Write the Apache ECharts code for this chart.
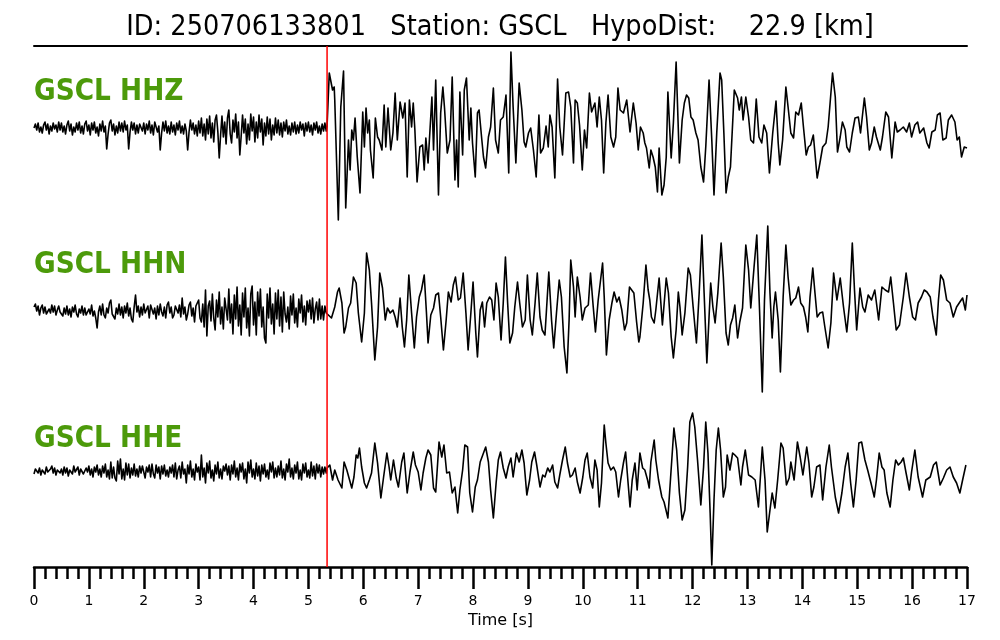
<!DOCTYPE html>
<html><head><meta charset="utf-8">
<script src="https://cdn.jsdelivr.net/npm/echarts@6/dist/echarts.min.js"></script>
<style>html,body{margin:0;padding:0;background:#fff}#c{width:1000px;height:640px}</style>
</head><body><div id="c"></div>
<script>
const titleText = 'ID: 250706133801   Station: GSCL   HypoDist:    22.9 [km]';
const channels = ['GSCL HHZ', 'GSCL HHN', 'GSCL HHE'];
const pArrival = 5.34;
const xMin = 0, xMax = 17;
const noiseStep = 0.025;

const hhzNoise = [
 0,4,-2,5,-4,1,-5,3,6,-2,4,-6,2,-3,5,-1,3,-4,6,-2,
 5,-4,2,-6,3,7,-3,4,-7,1,-4,5,-2,6,-5,2,-6,4,7,-3,
 3,-7,5,-2,6,-5,1,-8,4,-3,7,-4,2,-21,-6,5,8,-3,4,-7,
 2,-5,6,-3,5,-4,7,-2,3,-21,-4,6,-2,5,-6,3,-5,4,6,-3,
 5,-6,4,-2,7,-5,3,-7,6,8,-4,2,-22,-5,6,-3,7,-5,2,-6,
 6,-4,3,-7,5,-2,7,-5,2,-6,4,-3,-22,-4,8,-2,5,-6,3,-8,
 7,-5,10,-8,4,-12,9,-6,12,-10,5,-14,8,13,-4,-30,-7,12,-9,6,
 -16,10,18,-6,-15,8,-4,14,-10,6,-27,-8,13,-5,9,-16,4,-12,14,-3,
 11,-14,6,-10,13,-4,9,-17,5,-8,11,-6,9,-12,3,-7,10,-5,8,-7,
 5,-9,6,-3,8,-6,2,-7,5,-4,6,-6,3,-5,6,-2,4,-8,5,-3,
 6,-4,3,-7,5,-2,6,-5,2,-6,4,-3,5,-3];
const hhzPost = [[5.34,2],[5.38,55],[5.44,38],[5.47,41],[5.48,28],[5.545,-92],[5.59,21],[5.64,57],[5.68,-80],[5.73,-12],[5.76,-42],[5.79,-2],[5.82,-12],[5.85,10],[5.89,-29],[5.94,-65],[5.99,16],[6.02,-19],[6.05,20],[6.08,-5],[6.11,8],[6.13,-22],[6.18,-50],[6.22,10],[6.26,-9],[6.29,-12],[6.34,-22],[6.38,23],[6.41,-19],[6.45,20],[6.50,-22],[6.54,-5],[6.58,35],[6.62,-12],[6.67,26],[6.72,10],[6.76,25],[6.80,-49],[6.84,28],[6.88,1],[6.91,25],[6.94,-2],[6.98,-54],[7.03,-19],[7.08,-17],[7.11,-42],[7.14,-10],[7.18,-35],[7.25,31],[7.28,-22],[7.32,48],[7.37,-67],[7.41,15],[7.45,41],[7.48,20],[7.53,-25],[7.58,-12],[7.62,51],[7.67,-52],[7.70,-12],[7.73,-59],[7.76,36],[7.81,-27],[7.84,38],[7.88,50],[7.93,-12],[7.96,20],[7.99,-15],[8.04,-49],[8.08,15],[8.11,18],[8.16,-12],[8.19,-29],[8.23,-40],[8.28,-9],[8.32,1],[8.37,40],[8.41,-12],[8.46,-25],[8.50,8],[8.55,11],[8.60,33],[8.65,-45],[8.69,76],[8.73,21],[8.78,-35],[8.84,45],[8.89,18],[8.93,-14],[8.96,-19],[9.01,-5],[9.05,0],[9.10,-22],[9.15,-49],[9.20,13],[9.23,-25],[9.28,-20],[9.33,2],[9.37,-19],[9.40,13],[9.44,1],[9.49,-50],[9.54,49],[9.58,1],[9.63,-27],[9.69,35],[9.74,36],[9.78,21],[9.83,-35],[9.86,28],[9.90,25],[9.94,3],[9.99,-42],[10.03,-2],[10.07,-20],[10.12,35],[10.16,16],[10.22,25],[10.26,1],[10.30,31],[10.34,8],[10.38,-45],[10.42,5],[10.46,33],[10.51,-9],[10.56,-19],[10.60,-9],[10.64,40],[10.68,18],[10.74,15],[10.80,28],[10.86,-4],[10.92,25],[10.97,5],[11.01,-22],[11.05,1],[11.10,-5],[11.13,-15],[11.16,-20],[11.21,-40],[11.24,-22],[11.28,-29],[11.32,-39],[11.36,-64],[11.39,-20],[11.44,-67],[11.48,-57],[11.52,-29],[11.55,36],[11.61,-30],[11.65,5],[11.70,66],[11.76,-35],[11.81,8],[11.85,25],[11.89,33],[11.93,30],[11.97,11],[12.01,8],[12.06,-5],[12.10,-12],[12.15,-39],[12.20,-54],[12.24,-19],[12.30,48],[12.35,-12],[12.39,-67],[12.44,-5],[12.50,55],[12.53,48],[12.57,-5],[12.61,-65],[12.65,-49],[12.69,-39],[12.76,38],[12.82,30],[12.85,18],[12.89,31],[12.92,8],[12.97,31],[13.02,11],[13.06,-12],[13.11,-15],[13.16,29],[13.21,-9],[13.26,-15],[13.30,3],[13.35,-5],[13.40,-45],[13.46,-5],[13.52,27],[13.56,-15],[13.59,-37],[13.64,-12],[13.70,41],[13.74,21],[13.79,-5],[13.84,-10],[13.88,16],[13.93,13],[13.98,25],[14.02,1],[14.07,-27],[14.11,-19],[14.15,-17],[14.20,-7],[14.27,-50],[14.32,-35],[14.37,-19],[14.43,-15],[14.47,1],[14.55,55],[14.60,31],[14.64,-24],[14.69,-9],[14.73,6],[14.78,-2],[14.81,-19],[14.86,-24],[14.91,-5],[14.96,10],[15.02,11],[15.06,-5],[15.13,30],[15.17,11],[15.22,-22],[15.26,-15],[15.31,1],[15.35,-9],[15.42,-22],[15.46,-9],[15.52,16],[15.57,11],[15.63,-30],[15.69,6],[15.73,-4],[15.78,-2],[15.84,1],[15.90,-4],[15.95,5],[15.99,-9],[16.05,3],[16.10,6],[16.14,-5],[16.21,0],[16.27,-15],[16.31,-20],[16.36,-4],[16.42,-2],[16.46,13],[16.51,15],[16.56,-12],[16.62,-10],[16.66,8],[16.72,13],[16.78,6],[16.82,-12],[16.86,-9],[16.90,-29],[16.95,-19],[17.0,-20]];

const hhnNoise = [
 3,6,-1,4,-5,2,5,-3,3,-4,-6,1,-3,5,-2,4,-5,0,4,-2,
 -3,-6,2,-4,4,-5,1,-7,3,-2,5,-4,-7,1,-3,4,-5,2,-5,-6,
 1,-4,5,-6,-1,-8,-18,-2,4,-5,6,-5,-8,2,-3,7,10,-4,-6,-9,
 2,-4,6,-5,3,-8,4,-3,7,-6,2,-9,-12,3,15,-2,4,-7,3,-5,
 6,-3,-5,4,-8,5,7,-4,2,-9,4,-5,6,-2,-6,3,-8,5,8,-3,
 3,-8,-5,4,6,-3,5,-7,12,-4,3,-10,-4,5,8,-6,2,-12,4,6,
 10,-8,-12,6,-17,20,-26,4,9,-11,16,-8,-20,10,-7,18,-14,3,-19,12,
 14,-10,21,-13,6,-24,15,-9,23,-16,5,-25,17,-7,22,-18,2,-26,16,24,
 -15,8,-25,18,-6,21,-17,3,-28,-33,16,-8,22,-14,6,-24,17,-9,20,-16,
 13,-22,18,-4,-12,3,-19,14,-5,16,-13,2,-17,11,-3,15,-12,4,-15,9,
 -2,10,-9,12,-13,1,8,-10,11,-9,4,-10,4,-3];
const hhnPost = [[5.34,-3],[5.36,-5],[5.42,-8],[5.48,3],[5.53,18],[5.56,22],[5.61,7],[5.65,-23],[5.68,-17],[5.73,2],[5.77,7],[5.82,33],[5.87,27],[5.91,-3],[5.97,-32],[6.02,-3],[6.06,57],[6.11,40],[6.15,7],[6.21,-50],[6.26,-17],[6.30,37],[6.35,22],[6.40,-10],[6.44,2],[6.49,-3],[6.54,0],[6.58,-7],[6.62,-17],[6.67,12],[6.71,-17],[6.75,-37],[6.79,-10],[6.83,35],[6.88,-3],[6.93,-38],[6.97,-7],[7.02,13],[7.06,20],[7.11,35],[7.15,-2],[7.18,-33],[7.23,-5],[7.28,2],[7.32,15],[7.37,17],[7.41,-7],[7.46,-40],[7.51,-10],[7.55,18],[7.60,8],[7.64,25],[7.68,33],[7.73,10],[7.77,12],[7.82,37],[7.87,-3],[7.91,-40],[7.96,-3],[8.00,28],[8.05,-23],[8.08,-47],[8.13,0],[8.17,8],[8.21,-17],[8.25,7],[8.30,13],[8.34,10],[8.38,-10],[8.42,27],[8.46,13],[8.51,-30],[8.55,7],[8.59,53],[8.63,7],[8.67,-33],[8.72,-23],[8.76,3],[8.81,28],[8.85,7],[8.90,-17],[8.95,-10],[8.99,35],[9.04,-10],[9.08,-25],[9.13,7],[9.17,37],[9.22,-7],[9.26,-20],[9.31,-25],[9.38,38],[9.43,-10],[9.47,-38],[9.52,-3],[9.57,30],[9.61,13],[9.66,-37],[9.71,-63],[9.75,-10],[9.78,50],[9.83,23],[9.86,-7],[9.90,33],[9.95,13],[9.99,-10],[10.04,2],[10.10,5],[10.14,37],[10.19,3],[10.23,-22],[10.28,10],[10.36,47],[10.39,13],[10.43,-45],[10.48,-10],[10.53,7],[10.57,18],[10.62,8],[10.66,13],[10.71,0],[10.76,-20],[10.80,-13],[10.85,23],[10.89,20],[10.93,17],[10.98,-12],[11.02,-32],[11.04,-27],[11.10,7],[11.15,45],[11.19,20],[11.22,10],[11.25,-7],[11.30,-13],[11.33,0],[11.39,32],[11.45,-15],[11.52,32],[11.56,17],[11.61,-27],[11.65,-48],[11.70,-20],[11.74,18],[11.77,3],[11.81,-25],[11.86,-3],[11.92,42],[11.96,35],[12.01,3],[12.07,-33],[12.12,17],[12.17,75],[12.21,17],[12.26,-53],[12.30,-7],[12.33,27],[12.37,3],[12.41,-13],[12.46,17],[12.52,67],[12.56,33],[12.61,-23],[12.65,-35],[12.69,-15],[12.73,-8],[12.77,5],[12.82,-28],[12.86,-12],[12.91,2],[12.97,65],[13.02,40],[13.06,2],[13.12,43],[13.17,75],[13.22,0],[13.27,-82],[13.31,10],[13.37,84],[13.41,17],[13.45,-28],[13.48,3],[13.51,18],[13.56,-10],[13.60,-62],[13.65,13],[13.70,65],[13.74,33],[13.79,5],[13.84,10],[13.88,12],[13.93,23],[13.97,7],[14.02,3],[14.06,-7],[14.10,-22],[14.14,13],[14.19,42],[14.23,17],[14.27,-7],[14.32,-3],[14.37,-2],[14.41,-17],[14.47,-38],[14.52,-13],[14.57,37],[14.63,10],[14.69,32],[14.75,3],[14.81,-22],[14.86,7],[14.91,67],[14.95,20],[14.99,-20],[15.05,22],[15.10,3],[15.14,-2],[15.20,15],[15.26,10],[15.32,20],[15.39,-10],[15.45,23],[15.51,20],[15.57,18],[15.61,33],[15.66,7],[15.71,-20],[15.77,-15],[15.84,13],[15.89,37],[15.95,13],[16.01,-7],[16.06,-10],[16.11,7],[16.17,13],[16.22,20],[16.27,18],[16.33,13],[16.38,-7],[16.44,-25],[16.48,10],[16.52,35],[16.57,30],[16.63,10],[16.69,7],[16.75,-7],[16.81,3],[16.87,8],[16.92,12],[16.97,0],[17.0,15]];

const hheNoise = [
 -3,2,4,-2,3,-4,1,3,-3,4,-1,-3,2,5,-2,3,-4,1,3,-2,
 2,-4,4,-2,3,-5,1,3,-3,5,-1,-3,4,-4,2,4,-3,-5,3,-1,
 5,-4,2,-6,4,-1,6,-4,2,-6,5,-2,7,-6,1,-8,9,-7,4,-7,
 -10,10,-3,12,-8,2,-9,8,-4,7,-7,3,-4,7,-5,2,-6,5,-2,5,
 3,-7,4,-1,6,-6,7,-3,-7,6,-2,4,-8,5,-3,6,-5,1,-6,4,
 -2,6,-6,8,-8,1,5,-7,9,-3,2,-12,6,-3,10,-6,2,-9,7,-1,
 4,-9,16,-6,3,-12,8,-2,10,-7,1,-10,6,-3,9,-7,2,-8,5,0,
 7,-4,5,-9,6,-3,10,-6,3,-9,7,-1,8,-8,2,-12,9,-2,11,-6,
 2,-8,8,-5,5,-10,6,-3,7,-6,1,-8,8,-1,9,-7,3,-6,5,-4,
 10,-7,2,-9,7,-1,12,-6,3,-8,6,-2,9,-8,1,-9,7,-2,8,-6,
 1,-7,9,-5,5,-8,7,-2,6,-6,4,-3,4,-2];
const hhePost = [[5.34,3],[5.39,6],[5.44,-9],[5.48,1],[5.54,-9],[5.61,-17],[5.65,9],[5.70,1],[5.75,-9],[5.79,-17],[5.83,-6],[5.87,16],[5.90,13],[5.93,23],[5.97,4],[6.02,-12],[6.06,-17],[6.11,-9],[6.15,-2],[6.21,28],[6.26,8],[6.32,-27],[6.37,-6],[6.43,18],[6.47,4],[6.50,-9],[6.55,11],[6.60,-7],[6.64,-16],[6.70,9],[6.74,18],[6.80,-22],[6.85,-1],[6.91,19],[6.95,6],[7.00,-1],[7.05,-19],[7.09,-2],[7.14,13],[7.18,21],[7.23,16],[7.28,-17],[7.32,-21],[7.38,29],[7.43,14],[7.47,26],[7.52,-2],[7.57,-1],[7.62,-22],[7.67,-16],[7.72,-42],[7.76,-19],[7.81,1],[7.85,26],[7.90,24],[7.94,-22],[7.99,-41],[8.04,-16],[8.08,-9],[8.13,9],[8.19,18],[8.23,24],[8.28,9],[8.32,-19],[8.37,-47],[8.42,-12],[8.46,11],[8.50,19],[8.55,3],[8.60,-7],[8.64,4],[8.69,13],[8.73,-6],[8.79,18],[8.84,9],[8.89,21],[8.93,8],[8.98,-24],[9.03,-9],[9.07,9],[9.12,19],[9.16,6],[9.22,-16],[9.27,-4],[9.31,-6],[9.36,3],[9.40,-1],[9.45,6],[9.49,-11],[9.54,-17],[9.58,-4],[9.63,11],[9.68,24],[9.72,8],[9.77,-6],[9.81,-4],[9.86,3],[9.90,-11],[9.95,-22],[10.00,-6],[10.04,11],[10.08,18],[10.13,-6],[10.18,-17],[10.22,11],[10.26,1],[10.30,-36],[10.34,-12],[10.39,46],[10.42,28],[10.46,8],[10.51,1],[10.56,4],[10.60,-1],[10.65,-26],[10.69,-9],[10.74,8],[10.78,19],[10.81,-2],[10.86,-36],[10.90,-9],[10.95,8],[10.99,-19],[11.04,18],[11.09,3],[11.13,1],[11.18,-9],[11.21,-17],[11.24,9],[11.30,31],[11.33,11],[11.38,-9],[11.44,-26],[11.48,-31],[11.55,-47],[11.60,-6],[11.66,43],[11.71,21],[11.76,-22],[11.81,-49],[11.86,-39],[11.91,4],[11.95,49],[12.00,58],[12.04,44],[12.09,11],[12.15,-34],[12.20,4],[12.24,49],[12.28,18],[12.32,-42],[12.35,-94],[12.39,-29],[12.43,21],[12.47,43],[12.51,21],[12.56,-26],[12.60,-16],[12.63,16],[12.68,1],[12.73,18],[12.77,16],[12.82,13],[12.88,-14],[12.91,4],[12.96,21],[13.02,-4],[13.08,-6],[13.14,-9],[13.20,-36],[13.24,-2],[13.27,24],[13.32,-9],[13.36,-61],[13.41,-39],[13.45,-22],[13.50,-37],[13.55,-9],[13.61,28],[13.65,23],[13.71,-14],[13.76,-7],[13.79,9],[13.85,-9],[13.91,29],[13.96,14],[14.01,-4],[14.08,24],[14.12,8],[14.17,-26],[14.21,-16],[14.26,4],[14.32,6],[14.37,-29],[14.43,4],[14.49,26],[14.53,4],[14.60,-26],[14.66,-42],[14.72,-22],[14.78,4],[14.83,18],[14.88,-12],[14.93,-36],[14.98,-9],[15.03,28],[15.08,29],[15.14,11],[15.19,1],[15.25,-12],[15.31,-26],[15.35,-9],[15.40,18],[15.45,4],[15.49,1],[15.54,-22],[15.60,-36],[15.65,-9],[15.70,11],[15.75,6],[15.80,9],[15.84,13],[15.89,-2],[15.95,-19],[15.99,-1],[16.05,21],[16.11,-6],[16.19,-26],[16.25,-9],[16.33,-6],[16.39,6],[16.44,9],[16.51,-14],[16.57,-7],[16.63,1],[16.69,4],[16.75,-6],[16.81,-12],[16.87,-22],[16.92,-9],[16.98,6]];

function buildTrace(noise, post) {
  const d = noise.map((v, i) => [Math.round(i * noiseStep * 1000) / 1000, v]);
  return d.concat(post);
}
const traces = [buildTrace(hhzNoise, hhzPost), buildTrace(hhnNoise, hhnPost), buildTrace(hheNoise, hhePost)];

const L = 34, R = 33;
const traceGrids = [{top: 28}, {top: 210}, {top: 371}];
const labelY = [92, 265, 439];
const FONT = '"DejaVu Sans", sans-serif';

const grids = traceGrids.map(g => ({left: L, right: R, top: g.top, height: 200}));
grids.push({left: L, right: R, top: 46, height: 521});

const xAxes = traceGrids.map((g, i) => ({gridIndex: i, type: 'value', min: xMin, max: xMax, show: false}));
xAxes.push({
  gridIndex: 3, type: 'value', min: xMin, max: xMax, interval: 1, position: 'bottom',
  axisLine: {show: true, lineStyle: {color: '#000', width: 2.5}},
  axisTick: {show: true, length: 22, lineStyle: {color: '#000', width: 2.5}},
  minorTick: {show: true, splitNumber: 5, length: 12, lineStyle: {color: '#000', width: 2.5}},
  axisLabel: {color: '#000', fontSize: 14, fontFamily: FONT, margin: 27},
  splitLine: {show: false}, minorSplitLine: {show: false},
  name: 'Time [s]', nameLocation: 'middle', nameGap: 45,
  nameTextStyle: {color: '#000', fontSize: 16, fontFamily: FONT}
});
xAxes.push({
  gridIndex: 3, type: 'value', min: xMin, max: xMax, position: 'top',
  axisLine: {show: true, lineStyle: {color: '#000', width: 2}},
  axisTick: {show: false}, axisLabel: {show: false}, splitLine: {show: false}
});

const yAxes = traceGrids.map((g, i) => ({gridIndex: i, type: 'value', min: -100, max: 100, show: false}));
yAxes.push({gridIndex: 3, type: 'value', min: 0, max: 1, show: false});

const series = traces.map((d, i) => ({
  type: 'line', xAxisIndex: i, yAxisIndex: i, data: d,
  showSymbol: false, symbol: 'none', clip: false, silent: true,
  lineStyle: {color: '#000', width: 1.6, join: 'round'}
}));
series.push({
  type: 'line', xAxisIndex: 3, yAxisIndex: 3, data: [[pArrival, 0], [pArrival, 1]],
  showSymbol: false, symbol: 'none', silent: true,
  lineStyle: {color: '#ff0000', width: 1.5}, z: 5
});

const graphics = [{
  type: 'text', x: 500, y: 28, scaleX: 0.915,
  style: {text: titleText, fontSize: 28, fontFamily: FONT, fill: '#000',
          textAlign: 'center', textVerticalAlign: 'middle', align: 'center', verticalAlign: 'middle'}
}];
channels.forEach((c, i) => graphics.push({
  type: 'text', x: L, y: labelY[i], scaleX: 0.88,
  style: {text: c, fontSize: 30, fontWeight: 'bold', fontFamily: FONT, fill: '#4c9a0a',
          textAlign: 'left', textVerticalAlign: 'middle', align: 'left', verticalAlign: 'middle'}
}));

const chart = echarts.init(document.getElementById('c'), null, {renderer: 'canvas'});
chart.setOption({
  animation: false,
  backgroundColor: '#fff',
  grid: grids, xAxis: xAxes, yAxis: yAxes, series: series, graphic: graphics
});
</script></body></html>
